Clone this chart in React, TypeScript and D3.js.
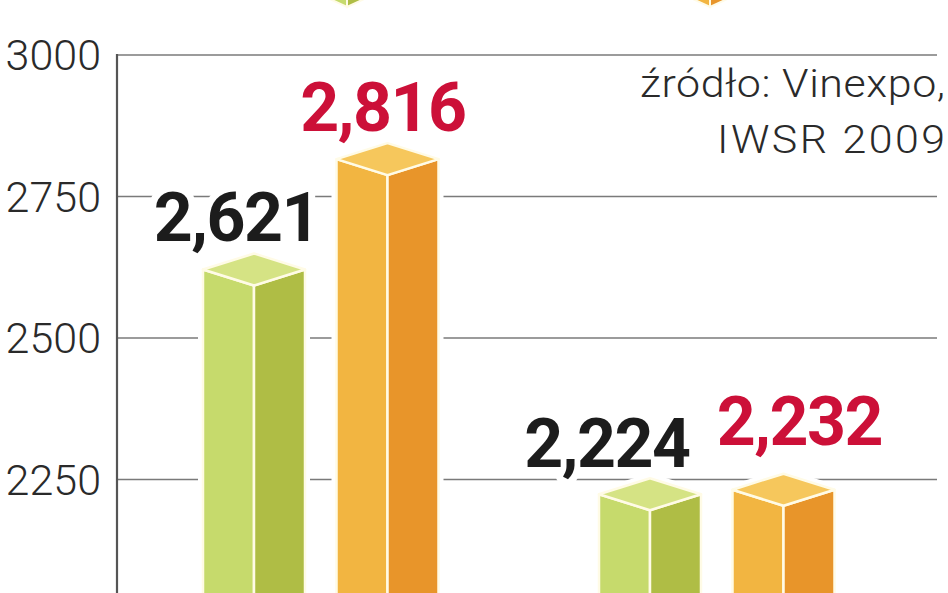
import React from "react";
import * as d3 from "d3";

// ---- data ----
const groups = ["grupa1", "grupa2"];
const seriesKeys = ["zielona", "pomarańczowa"];
const greenValues = [2621, 2224];
const orangeValues = [2816, 2232];
const tickValues = [2250, 2500, 2750, 3000];
const sourceLines = ["źródło: Vinexpo,", "IWSR 2009"];

// ---- layout / style ----
const W = 948;
const H = 593;
const AXIS_X = 117;
const GRID_END = 937;
const palette: Record<string, { left: string; right: string; top: string }> = {
  zielona: { left: "#c6da6c", right: "#afbd45", top: "#d5e384" },
  pomarańczowa: { left: "#f2b541", right: "#e8952a", top: "#f6c75c" },
};
const labelColor: Record<string, string> = { zielona: "#1c1c1c", pomarańczowa: "#cc1038" };
const labelNudge: Record<string, [number, number][]> = {
  zielona: [[-17.5, -28.5], [-43, -27]],
  pomarańczowa: [[-4.5, -28], [16, -45]],
};
const legendX: Record<string, number> = { zielona: 347, pomarańczowa: 710 };
const SOURCE_STRETCH = 1.1;
const sourceWidths = [305, 228];
const HALF_DEPTH = 16;

function cubePolys(x0: number, x1: number, yc: number, yb: number, h: number) {
  const xm = (x0 + x1) / 2;
  return {
    halo: [[x0, yc], [xm, yc - h], [x1, yc], [x1, yb], [x0, yb]],
    left: [[x0, yc], [xm, yc + h], [xm, yb], [x0, yb]],
    right: [[xm, yc + h], [x1, yc], [x1, yb], [xm, yb]],
    top: [[x0, yc], [xm, yc - h], [x1, yc], [xm, yc + h]],
  };
}
const pts = (p: number[][]) => p.map((d) => d.join(",")).join(" ");

export default function App() {
  const y = d3.scaleLinear().domain([2000, 3000]).range([621, 55]);
  const gx = d3.scaleBand<string>().domain(groups).range([122.5, 914.5]);
  const sx = d3.scaleBand<string>().domain(seriesKeys).range([80.5, 316]).paddingInner(0.236);
  const fmt = d3.format(",");
  const valuesBy: Record<string, number[]> = { zielona: greenValues, pomarańczowa: orangeValues };
  const bottom = y(2000);

  const bars: any[] = [];
  groups.forEach((g, gi) => {
    seriesKeys.forEach((s) => {
      const v = valuesBy[s][gi];
      const x0 = (gx(g) as number) + (sx(s) as number);
      const x1 = x0 + sx.bandwidth();
      bars.push({ key: g + s, s, gi, v, x0, x1, cx: (x0 + x1) / 2, yc: y(v) });
    });
  });

  return (
    <svg
      width={W}
      height={H}
      style={{ position: "absolute", left: 0, top: 0, background: "#fff" }}
      fontFamily="Roboto, 'Liberation Sans', sans-serif"
    >
      <rect x={0} y={0} width={W} height={H} fill="#fff" />
      {/* legend cubes cut at the top */}
      {seriesKeys.map((s) => {
        const cx = legendX[s];
        const bottomL = [[cx - 30, -7], [cx, 7], [cx, -60], [cx - 30, -60]];
        const bottomR = [[cx, 7], [cx + 30, -7], [cx + 30, -60], [cx, -60]];
        return (
          <g key={"lg" + s}>
            <polygon points={pts(bottomL)} fill={palette[s].left} stroke="#fffbe6" strokeWidth={2} />
            <polygon points={pts(bottomR)} fill={palette[s].right} stroke="#fffbe6" strokeWidth={2} />
          </g>
        );
      })}
      {/* gridlines */}
      {tickValues.map((t) => (
        <line key={"g" + t} x1={AXIS_X} x2={GRID_END} y1={y(t)} y2={y(t)} stroke="#7a7a7a" strokeWidth={1.6} />
      ))}
      {/* tick labels */}
      {tickValues.map((t) => (
        <text
          key={"t" + t}
          x={101}
          y={y(t)}
          dy="0.36em"
          textAnchor="end"
          fontSize={43}
          fontWeight={300}
          fill="#2a2a2a"
        >
          {t}
        </text>
      ))}
      {/* axis line */}
      <line x1={AXIS_X} x2={AXIS_X} y1={y(3000) - 1} y2={H + 5} stroke="#555" strokeWidth={2.2} />
      {/* bars */}
      {bars.map((b) => {
        const c = cubePolys(b.x0, b.x1, b.yc, bottom, HALF_DEPTH);
        const col = palette[b.s];
        return (
          <g key={b.key}>
            <polygon points={pts(c.halo)} fill="#fff" stroke="#fff" strokeWidth={10} strokeLinejoin="round" />
            <polygon points={pts(c.left)} fill={col.left} stroke="#fffbe6" strokeWidth={2.5} strokeLinejoin="round" />
            <polygon points={pts(c.right)} fill={col.right} stroke="#fffbe6" strokeWidth={2.5} strokeLinejoin="round" />
            <polygon points={pts(c.top)} fill={col.top} stroke="#fffbe6" strokeWidth={2.5} strokeLinejoin="round" />
          </g>
        );
      })}
      {/* value labels */}
      {bars.map((b) => {
        const [dx, dy] = labelNudge[b.s][b.gi];
        return (
          <text
            key={"l" + b.key}
            x={b.cx + dx}
            y={b.yc + dy}
            textAnchor="middle"
            fontSize={68}
            fontWeight={700}
            letterSpacing={-1.5}
            fill={labelColor[b.s]}
            stroke="#fff"
            strokeWidth={14}
            strokeLinejoin="round"
            style={{ paintOrder: "stroke" }}
          >
            {fmt(b.v)}
          </text>
        );
      })}
      {/* source */}
      <g transform={`translate(945,0) scale(${SOURCE_STRETCH},1)`}>
        {sourceLines.map((line, i) => (
          <text
            key={"s" + i}
            x={0}
            y={97 + i * 56}
            textAnchor="end"
            fontSize={39}
            fontWeight={300}
            fill="#2a2a2a"
            textLength={sourceWidths[i] / SOURCE_STRETCH}
            lengthAdjust="spacing"
          >
            {line}
          </text>
        ))}
      </g>
    </svg>
  );
}
